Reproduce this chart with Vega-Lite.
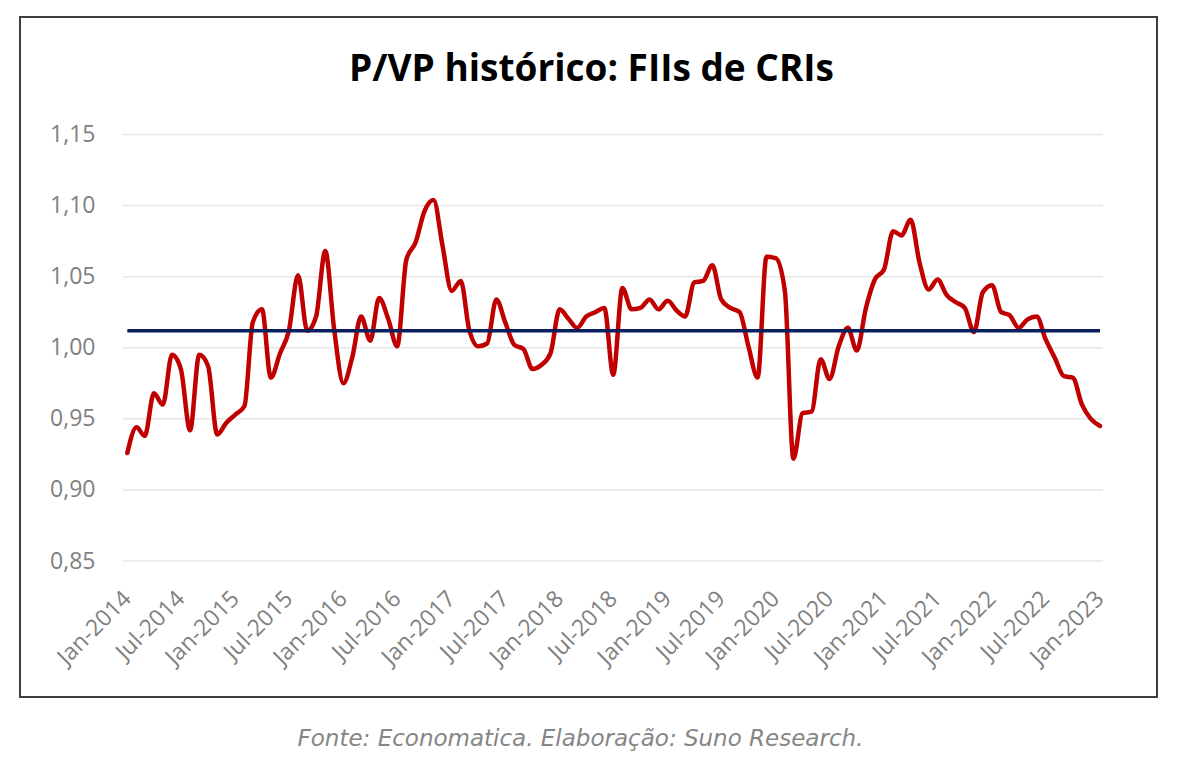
{
  "$schema": "https://vega.github.io/schema/vega-lite/v6.json",
  "autosize": "none",
  "padding": {"left": 20, "top": 17, "right": 25, "bottom": 79},
  "width": 1137,
  "height": 680,
  "background": "white",
  "title": {
    "text": "P/VP histórico: FIIs de CRIs",
    "font": "Open Sans",
    "fontSize": 37,
    "fontWeight": "bold",
    "color": "#000000",
    "anchor": "middle",
    "baseline": "alphabetic",
    "offset": 0,
    "dx": 3,
    "dy": 101
  },
  "datasets": {
    "pvp": [
      {"mes": "2014-01-01", "pvp": 0.926}, {"mes": "2014-02-01", "pvp": 0.944}, {"mes": "2014-03-01", "pvp": 0.938},
      {"mes": "2014-04-01", "pvp": 0.968}, {"mes": "2014-05-01", "pvp": 0.960}, {"mes": "2014-06-01", "pvp": 0.995},
      {"mes": "2014-07-01", "pvp": 0.985}, {"mes": "2014-08-01", "pvp": 0.942}, {"mes": "2014-09-01", "pvp": 0.995},
      {"mes": "2014-10-01", "pvp": 0.987}, {"mes": "2014-11-01", "pvp": 0.939}, {"mes": "2014-12-01", "pvp": 0.947},
      {"mes": "2015-01-01", "pvp": 0.953}, {"mes": "2015-02-01", "pvp": 0.959}, {"mes": "2015-03-01", "pvp": 1.018},
      {"mes": "2015-04-01", "pvp": 1.027}, {"mes": "2015-05-01", "pvp": 0.979}, {"mes": "2015-06-01", "pvp": 0.996},
      {"mes": "2015-07-01", "pvp": 1.012}, {"mes": "2015-08-01", "pvp": 1.051}, {"mes": "2015-09-01", "pvp": 1.012},
      {"mes": "2015-10-01", "pvp": 1.022}, {"mes": "2015-11-01", "pvp": 1.068}, {"mes": "2015-12-01", "pvp": 1.013},
      {"mes": "2016-01-01", "pvp": 0.975}, {"mes": "2016-02-01", "pvp": 0.994}, {"mes": "2016-03-01", "pvp": 1.022},
      {"mes": "2016-04-01", "pvp": 1.005}, {"mes": "2016-05-01", "pvp": 1.035}, {"mes": "2016-06-01", "pvp": 1.020},
      {"mes": "2016-07-01", "pvp": 1.001}, {"mes": "2016-08-01", "pvp": 1.062}, {"mes": "2016-09-01", "pvp": 1.074},
      {"mes": "2016-10-01", "pvp": 1.096}, {"mes": "2016-11-01", "pvp": 1.104}, {"mes": "2016-12-01", "pvp": 1.072},
      {"mes": "2017-01-01", "pvp": 1.040}, {"mes": "2017-02-01", "pvp": 1.047}, {"mes": "2017-03-01", "pvp": 1.013},
      {"mes": "2017-04-01", "pvp": 1.001}, {"mes": "2017-05-01", "pvp": 1.003}, {"mes": "2017-06-01", "pvp": 1.034},
      {"mes": "2017-07-01", "pvp": 1.018}, {"mes": "2017-08-01", "pvp": 1.002}, {"mes": "2017-09-01", "pvp": 0.999},
      {"mes": "2017-10-01", "pvp": 0.985}, {"mes": "2017-11-01", "pvp": 0.988}, {"mes": "2017-12-01", "pvp": 0.996},
      {"mes": "2018-01-01", "pvp": 1.027}, {"mes": "2018-02-01", "pvp": 1.020}, {"mes": "2018-03-01", "pvp": 1.014},
      {"mes": "2018-04-01", "pvp": 1.022}, {"mes": "2018-05-01", "pvp": 1.025}, {"mes": "2018-06-01", "pvp": 1.028},
      {"mes": "2018-07-01", "pvp": 0.981}, {"mes": "2018-08-01", "pvp": 1.042}, {"mes": "2018-09-01", "pvp": 1.027},
      {"mes": "2018-10-01", "pvp": 1.028}, {"mes": "2018-11-01", "pvp": 1.034}, {"mes": "2018-12-01", "pvp": 1.027},
      {"mes": "2019-01-01", "pvp": 1.033}, {"mes": "2019-02-01", "pvp": 1.026}, {"mes": "2019-03-01", "pvp": 1.022},
      {"mes": "2019-04-01", "pvp": 1.046}, {"mes": "2019-05-01", "pvp": 1.047}, {"mes": "2019-06-01", "pvp": 1.058},
      {"mes": "2019-07-01", "pvp": 1.034}, {"mes": "2019-08-01", "pvp": 1.028}, {"mes": "2019-09-01", "pvp": 1.025},
      {"mes": "2019-10-01", "pvp": 1.001}, {"mes": "2019-11-01", "pvp": 0.979}, {"mes": "2019-12-01", "pvp": 1.064},
      {"mes": "2020-01-01", "pvp": 1.063}, {"mes": "2020-02-01", "pvp": 1.040}, {"mes": "2020-03-01", "pvp": 0.922},
      {"mes": "2020-04-01", "pvp": 0.954}, {"mes": "2020-05-01", "pvp": 0.955}, {"mes": "2020-06-01", "pvp": 0.992},
      {"mes": "2020-07-01", "pvp": 0.978}, {"mes": "2020-08-01", "pvp": 1.001}, {"mes": "2020-09-01", "pvp": 1.014},
      {"mes": "2020-10-01", "pvp": 0.998}, {"mes": "2020-11-01", "pvp": 1.028}, {"mes": "2020-12-01", "pvp": 1.048},
      {"mes": "2021-01-01", "pvp": 1.055}, {"mes": "2021-02-01", "pvp": 1.082}, {"mes": "2021-03-01", "pvp": 1.079},
      {"mes": "2021-04-01", "pvp": 1.090}, {"mes": "2021-05-01", "pvp": 1.060}, {"mes": "2021-06-01", "pvp": 1.041},
      {"mes": "2021-07-01", "pvp": 1.048}, {"mes": "2021-08-01", "pvp": 1.037}, {"mes": "2021-09-01", "pvp": 1.032},
      {"mes": "2021-10-01", "pvp": 1.028}, {"mes": "2021-11-01", "pvp": 1.011}, {"mes": "2021-12-01", "pvp": 1.039},
      {"mes": "2022-01-01", "pvp": 1.044}, {"mes": "2022-02-01", "pvp": 1.025}, {"mes": "2022-03-01", "pvp": 1.023},
      {"mes": "2022-04-01", "pvp": 1.014}, {"mes": "2022-05-01", "pvp": 1.020}, {"mes": "2022-06-01", "pvp": 1.022},
      {"mes": "2022-07-01", "pvp": 1.006}, {"mes": "2022-08-01", "pvp": 0.993}, {"mes": "2022-09-01", "pvp": 0.980},
      {"mes": "2022-10-01", "pvp": 0.979}, {"mes": "2022-11-01", "pvp": 0.960}, {"mes": "2022-12-01", "pvp": 0.950},
      {"mes": "2023-01-01", "pvp": 0.945}
    ],
    "grade": [
      {"v": 0.85}, {"v": 0.90}, {"v": 0.95}, {"v": 1.00}, {"v": 1.05}, {"v": 1.10}, {"v": 1.15}
    ],
    "media": [
      {"inicio": "2014-01-01", "fim": "2023-01-01", "media": 1.012}
    ]
  },
  "layer": [
    {
      "data": {"name": "grade"},
      "mark": {"type": "rule", "color": "#e6e6e6", "strokeWidth": 1.5},
      "encoding": {
        "y": {"field": "v", "type": "quantitative"},
        "x": {"datum": {"year": 2013, "month": 12, "date": 17, "utc": true}, "type": "temporal"},
        "x2": {"datum": {"year": 2023, "month": 1, "date": 11, "utc": true}}
      }
    },
    {
      "data": {"name": "pvp"},
      "mark": {"type": "line", "color": "#C00000", "strokeWidth": 4.5, "interpolate": "monotone", "strokeCap": "round", "strokeJoin": "round"},
      "encoding": {
        "x": {
          "field": "mes",
          "type": "temporal",
          "scale": {
            "type": "utc",
            "domain": [
              {"year": 2013, "month": 1, "date": 3, "hours": 10, "utc": true},
              {"year": 2023, "month": 7, "date": 12, "hours": 14, "utc": true}
            ]
          },
          "axis": {
            "values": [
              {"year": 2014, "month": 1, "date": 1, "utc": true}, {"year": 2014, "month": 7, "date": 1, "utc": true},
              {"year": 2015, "month": 1, "date": 1, "utc": true}, {"year": 2015, "month": 7, "date": 1, "utc": true},
              {"year": 2016, "month": 1, "date": 1, "utc": true}, {"year": 2016, "month": 7, "date": 1, "utc": true},
              {"year": 2017, "month": 1, "date": 1, "utc": true}, {"year": 2017, "month": 7, "date": 1, "utc": true},
              {"year": 2018, "month": 1, "date": 1, "utc": true}, {"year": 2018, "month": 7, "date": 1, "utc": true},
              {"year": 2019, "month": 1, "date": 1, "utc": true}, {"year": 2019, "month": 7, "date": 1, "utc": true},
              {"year": 2020, "month": 1, "date": 1, "utc": true}, {"year": 2020, "month": 7, "date": 1, "utc": true},
              {"year": 2021, "month": 1, "date": 1, "utc": true}, {"year": 2021, "month": 7, "date": 1, "utc": true},
              {"year": 2022, "month": 1, "date": 1, "utc": true}, {"year": 2022, "month": 7, "date": 1, "utc": true},
              {"year": 2023, "month": 1, "date": 1, "utc": true}
            ],
            "labelExpr": "utcFormat(datum.value, '%b-%Y')",
            "labelAngle": -45,
            "labelFont": "Open Sans",
            "labelFontSize": 23,
            "labelColor": "#808080",
            "labelPadding": 4,
            "labelOffset": -8,
            "labelOverlap": false,
            "labelBound": false,
            "labelFlush": false,
            "grid": false,
            "domain": false,
            "ticks": false,
            "offset": -114,
            "title": "Fonte: Economatica. Elaboração: Suno Research.",
            "titleFont": "DejaVu Sans",
            "titleFontStyle": "italic",
            "titleFontWeight": "normal",
            "titleFontSize": 23,
            "titleColor": "#868686",
            "titleX": 560,
            "titleY": 155,
            "titleAlign": "center",
            "titleBaseline": "middle"
          }
        },
        "y": {
          "field": "pvp",
          "type": "quantitative",
          "scale": {"domain": [0.75434, 1.23265], "nice": false, "zero": false},
          "axis": {
            "values": [0.85, 0.90, 0.95, 1.00, 1.05, 1.10, 1.15],
            "labelExpr": "replace(format(datum.value, '.2f'), '.', ',')",
            "labelFont": "Open Sans",
            "labelFontSize": 23,
            "labelColor": "#808080",
            "labelPadding": 5,
            "grid": false,
            "domain": false,
            "ticks": false,
            "offset": -80,
            "title": null
          }
        }
      }
    },
    {
      "data": {"name": "media"},
      "mark": {"type": "rule", "color": "#0B1F5C", "strokeWidth": 3.5},
      "encoding": {
        "x": {"field": "inicio", "type": "temporal"},
        "x2": {"field": "fim"},
        "y": {"field": "media", "type": "quantitative"}
      }
    }
  ],
  "config": {
    "view": {"stroke": "#3f3f3f", "strokeWidth": 2}
  }
}
